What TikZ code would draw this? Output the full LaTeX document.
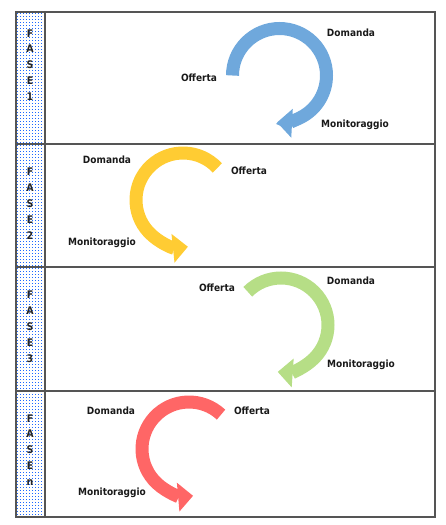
\documentclass[tikz,border=0pt]{standalone}
\usepackage{fontspec}
\setmainfont{DejaVu Sans Condensed}
\usetikzlibrary{arrows.meta,patterns}
\definecolor{cblue}{RGB}{111,168,220}
\definecolor{cyellow}{RGB}{255,204,51}
\definecolor{cgreen}{RGB}{182,222,134}
\definecolor{cred}{RGB}{255,102,102}
\definecolor{cframe}{RGB}{85,85,85}
\definecolor{cdot}{RGB}{30,105,255}
\pgfdeclarepatternformonly{mydots}{\pgfpointorigin}{\pgfqpoint{3.4pt}{3.4pt}}{\pgfqpoint{3.4pt}{3.4pt}}{%
  \pgfpathrectangle{\pgfqpoint{1.2pt}{1.2pt}}{\pgfqpoint{1.0pt}{1.0pt}}\pgfusepath{fill}}
\begin{document}
\begin{tikzpicture}[x=1pt,y=-1pt,
  lbl/.style={font=\fontsize{10}{12}\selectfont\bfseries, inner sep=0pt, text=black!90},
  ring/.style={line width=13pt, -{Triangle[width=28pt,length=15pt]}},
  vlabel/.style={font=\fontsize{10.5}{15.9}\selectfont\bfseries, align=center, inner sep=0pt, text=black!85},
  frameline/.style={draw=cframe, line width=1.2pt}]
\useasboundingbox (0,0) rectangle (445,525);
% dotted column
\path[pattern=mydots, pattern color=cdot] (16,12) rectangle (45,517);
% frame
\draw[frameline] (16,12) rectangle (435,517);
\draw[frameline] (45,12) -- (45,517);
\draw[frameline] (16,144) -- (435,144);
\draw[frameline] (16,267) -- (435,267);
\draw[frameline] (16,391) -- (435,391);
% phase labels
\node[vlabel] (f1) at (30,65) {F\\A\\S\\E\\1};
\node[vlabel] (f2) at (30,203.5) {F\\A\\S\\E\\2};
\node[vlabel] (f3) at (30,326.5) {F\\A\\S\\E\\3};
\node[vlabel] (fn) at (30,450) {F\\A\\S\\E\\n};
% centers
\coordinate (c1) at (279.5,75.5);
\coordinate (c2) at (183,200);
\coordinate (c3) at (281,325);
\coordinate (cn) at (189,449);
% arrows
\draw[ring,cblue] ([shift={(-180:47)}]c1) arc[start angle=-180,end angle=93,radius=47];
\draw[ring,cyellow] ([shift={(-43:47)}]c2) arc[start angle=-43,end angle=-276,radius=47];
\draw[ring,cgreen] ([shift={(-135:47)}]c3) arc[start angle=-135,end angle=94,radius=47];
\draw[ring,cred] ([shift={(-47:47)}]cn) arc[start angle=-47,end angle=-275,radius=47];
% texts
\node[lbl] (o1) at (199,78) {Offerta};
\node[lbl] (d1) at (351,33) {Domanda};
\node[lbl] (m1) at (355,125) {Monitoraggio};
\node[lbl] (d2) at (107,160) {Domanda};
\node[lbl] (o2) at (249,171) {Offerta};
\node[lbl] (m2) at (102,243) {Monitoraggio};
\node[lbl] (o3) at (217,288) {Offerta};
\node[lbl] (d3) at (351,281) {Domanda};
\node[lbl] (m3) at (361,365) {Monitoraggio};
\node[lbl] (dn) at (111,411) {Domanda};
\node[lbl] (on) at (252,411) {Offerta};
\node[lbl] (mn) at (112,493) {Monitoraggio};
\end{tikzpicture}
\end{document}
